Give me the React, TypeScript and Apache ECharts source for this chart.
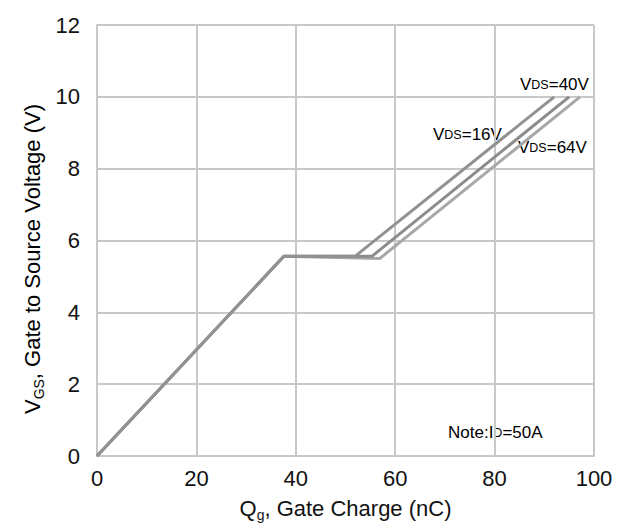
import React, { useEffect, useRef } from "react";
import * as echarts from "echarts";

const xTicks = [0, 20, 40, 60, 80, 100];
const yTicks = [0, 2, 4, 6, 8, 10, 12];

// Gate charge curves: [Qg (nC), VGS (V)]
const vds16: number[][] = [[0, 0], [37.6, 5.56], [51.9, 5.56], [92.0, 10]];
const vds40: number[][] = [[0, 0], [37.6, 5.56], [55.3, 5.56], [95.0, 10]];
const vds64: number[][] = [[0, 0], [37.6, 5.56], [56.9, 5.5], [97.2, 10]];

const seriesNames = ["VDS=64V", "VDS=40V", "VDS=16V"];

export default function App() {
  const ref = useRef<HTMLDivElement>(null);
  useEffect(() => {
    if (!ref.current) return;
    const chart = echarts.init(ref.current, undefined, { renderer: "svg" });
    const font = "'Liberation Sans', Arial, sans-serif";
    const lbl = (top: string, sub: string, tail: string) =>
      `{a|${top}}{s|${sub}}{a|${tail}}`;
    const lblRich = {
      a: { fontSize: 17, fontFamily: font, color: "#222" },
      s: { fontSize: 12.5, fontFamily: font, color: "#222" },
    };
    const titleRich = {
      a: { fontSize: 22, fontFamily: font, color: "#111", lineHeight: 28 },
      b: { fontSize: 14, fontFamily: font, color: "#111", lineHeight: 14, verticalAlign: "bottom" },
    };
    chart.setOption({
      animation: false,
      backgroundColor: "#fff",
      grid: { left: 97, right: 31, top: 25, bottom: 66 },
      xAxis: {
        type: "value",
        min: 0,
        max: 100,
        interval: 20,
        name: "{a|Q}{b|g}{a|, Gate Charge (nC)}",
        nameLocation: "middle",
        nameGap: 38,
        nameTextStyle: { rich: titleRich },
        axisLine: { show: true, lineStyle: { color: "#c8c8c8", width: 2 } },
        axisTick: { show: false },
        axisLabel: { fontSize: 22, fontFamily: font, color: "#111", margin: 11 },
        splitLine: { show: true, lineStyle: { color: "#c8c8c8", width: 2 } },
      },
      yAxis: {
        type: "value",
        min: 0,
        max: 12,
        interval: 2,
        axisLine: { show: true, lineStyle: { color: "#c8c8c8", width: 2 } },
        axisTick: { show: false },
        axisLabel: { fontSize: 22, fontFamily: font, color: "#111", margin: 17 },
        splitLine: { show: true, lineStyle: { color: "#c8c8c8", width: 2 } },
      },
      series: [
        {
          name: seriesNames[0],
          type: "line",
          data: vds64,
          symbol: "none",
          lineStyle: { color: "#a8a8a8", width: 3 },
        },
        {
          name: seriesNames[1],
          type: "line",
          data: vds40,
          symbol: "none",
          lineStyle: { color: "#8c8c8c", width: 3 },
        },
        {
          name: seriesNames[2],
          type: "line",
          data: vds16,
          symbol: "none",
          lineStyle: { color: "#929292", width: 3 },
        },
      ],
      graphic: [
        {
          type: "text",
          x: 32,
          y: 259,
          rotation: Math.PI / 2,
          style: {
            text: "{a|V}{b|GS}{a|, Gate to Source Voltage (V)}",
            rich: titleRich,
            align: "center",
            verticalAlign: "middle",
          },
        },
        { type: "text", left: 520, top: 76, style: { text: lbl("V", "DS", "=40V"), rich: lblRich } },
        { type: "text", left: 433, top: 126, style: { text: lbl("V", "DS", "=16V"), rich: lblRich } },
        { type: "text", left: 518, top: 139, style: { text: lbl("V", "DS", "=64V"), rich: lblRich } },
        { type: "text", left: 448, top: 424, style: { text: lbl("Note:I", "D", "=50A"), rich: lblRich } },
      ],
    });
    return () => chart.dispose();
  }, []);
  return <div ref={ref} style={{ width: 625, height: 527, position: "absolute", left: 0, top: 0 }} />;
}
